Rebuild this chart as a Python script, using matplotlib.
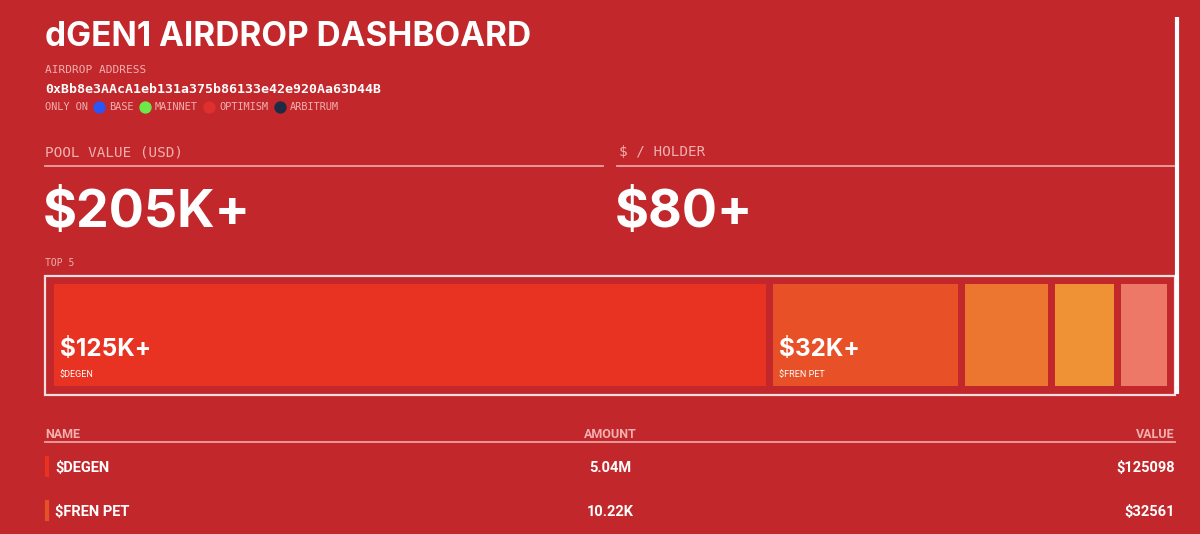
import matplotlib
matplotlib.use("Agg")
import matplotlib.pyplot as plt
from matplotlib.patches import Rectangle

# data
title = "dGEN1 AIRDROP DASHBOARD"
address = "0xBb8e3AAcA1eb131a375b86133e42e920Aa63D44B"
chains = ["BASE", "MAINNET", "OPTIMISM", "ARBITRUM"]
chain_colors = ["#2b55f5", "#6bea4a", "#e0302e", "#1f2a44"]
pool_value = "$205K+"
per_holder = "$80+"
tokens = ["$DEGEN", "$FREN PET", "token3", "token4", "token5"]
values = [125098, 32561, 14530, 10280, 8150]
amounts = ["5.04M", "10.22K"]
short_vals = ["$125K+", "$32K+"]
box_colors = ["#e83323", "#e85028", "#ec7530", "#ef9235", "#ee7868"]

bg = "#c1272b"
pink = "#f2b0b0"
line_c = "#eba3a3"
white = "#ffffff"
mono = ["DejaVu Sans Mono"]
bold = ["Inter", "Roboto", "DejaVu Sans"]
narrow = ["Roboto", "DejaVu Sans"]

fig = plt.figure(figsize=(12, 5.34), dpi=100, facecolor=bg)
ax = fig.add_axes([0, 0, 1, 1])
ax.set_xlim(0, 1200)
ax.set_ylim(534, 0)
ax.axis("off")

# header
ax.text(45, 46, title, color=white, fontsize=24, fontweight="bold", family=bold, va="baseline")
ax.text(45, 73, "AIRDROP ADDRESS", color=pink, fontsize=8, family=mono, va="baseline")
ax.text(45, 93, address, color=white, fontsize=9.5, fontweight="bold", family=mono, va="baseline")

fs = 7.4
cw = 0.602 * fs / 0.72
x = 45
ax.text(x, 110, "ONLY ON", color=pink, fontsize=fs, family=mono, va="baseline")
x += 7 * cw + 6
for name, c in zip(chains, chain_colors):
    ax.scatter([x + 5], [107], s=62, color=c, zorder=3)
    ax.text(x + 15, 110, name, color=pink, fontsize=fs, family=mono, va="baseline")
    x += 15 + len(name) * cw + 6

# stats
ax.text(45, 156, "POOL VALUE (USD)", color=pink, fontsize=10.3, family=mono, va="baseline")
ax.text(619, 156, "$ / HOLDER", color=pink, fontsize=10.3, family=mono, va="baseline")
ax.plot([45, 603], [166, 166], color=line_c, lw=1.3)
ax.plot([617, 1175], [166, 166], color=line_c, lw=1.3)
ax.text(43, 227, pool_value, color=white, fontsize=37.5, fontweight="bold", family=bold, va="baseline")
ax.text(615, 227, per_holder, color=white, fontsize=37.5, fontweight="bold", family=bold, va="baseline")

# right scroll line
ax.plot([1177, 1177], [17, 394], color=white, lw=3, solid_capstyle="butt")

# top 5
ax.text(45, 266, "TOP 5", color=pink, fontsize=7, family=mono, va="baseline")
ax.add_patch(Rectangle((45, 276), 1130, 119, fill=False, ec="#f6dede", lw=1.6))

bax = fig.add_axes([54 / 1200, 1 - 386 / 534, 1113 / 1200, 102 / 534])
bax.axis("off")
total = sum(values)
gap = total * 7 / (1113 - 7 * (len(values) - 1))
left = 0
for i, v in enumerate(values):
    bax.barh(0, v, left=left, height=1, color=box_colors[i], align="edge")
    if i < len(short_vals):
        bax.text(left + gap * 0.85, 0.29, short_vals[i], color=white, fontsize=17.5,
                 fontweight="bold", family=bold, va="baseline")
        bax.text(left + gap * 0.85, 0.09, tokens[i], color=white, fontsize=6.5,
                 family=narrow, va="baseline")
    left += v + gap
bax.set_xlim(0, left - gap)
bax.set_ylim(0, 1)

# table
ax.text(45, 438, "NAME", color=pink, fontsize=9, fontweight="bold", family=narrow, va="baseline")
ax.text(610, 438, "AMOUNT", color=pink, fontsize=9, fontweight="bold", family=narrow, va="baseline", ha="center")
ax.text(1175, 438, "VALUE", color=pink, fontsize=9, fontweight="bold", family=narrow, va="baseline", ha="right")
ax.plot([45, 1175], [442, 442], color=line_c, lw=1.3)
for i, y in enumerate([472, 516]):
    ax.plot([46.5, 46.5], [y - 16, y + 5], color=box_colors[i], lw=3, solid_capstyle="butt")
    ax.text(55, y, tokens[i], color=white, fontsize=10.5, fontweight="bold", family=narrow, va="baseline")
    ax.text(610, y, amounts[i], color=white, fontsize=10.5, fontweight="bold", family=narrow, va="baseline", ha="center")
    ax.text(1175, y, "$" + str(values[i]), color=white, fontsize=10.5, fontweight="bold", family=narrow,
            va="baseline", ha="right")

fig.savefig("out.png", dpi=100, facecolor=bg)
